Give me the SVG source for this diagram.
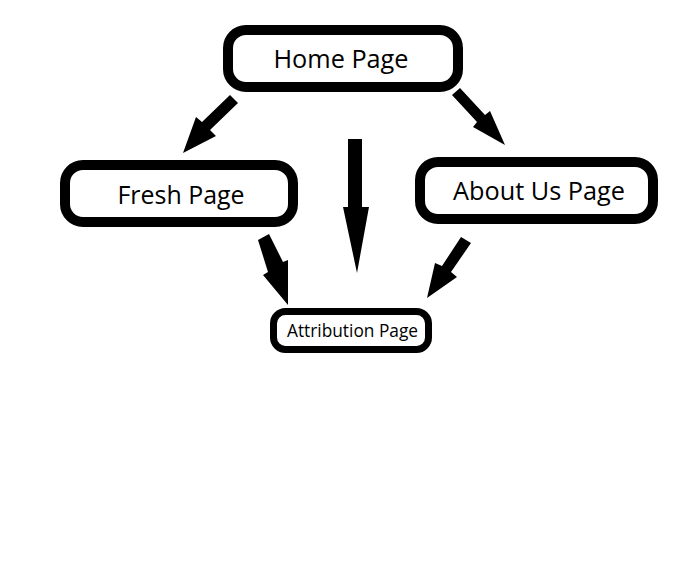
<svg xmlns="http://www.w3.org/2000/svg" width="696" height="564" viewBox="0 0 696 564">
  <style>
    .box { fill: #ffffff; stroke: #000000; stroke-width: 10; }
    .small { stroke-width: 7; }
    .label { font-family: "Open Sans", "Noto Sans", "DejaVu Sans", sans-serif; fill: #000000; text-anchor: middle; }
    .arrow { fill: #000000; stroke: none; }
  </style>
  <rect width="696" height="564" fill="#ffffff"/>

  <g id="connectors">
    <!-- Home Page to Fresh Page -->
    <polygon class="arrow" points="230,95 238,103 210,130 216,136 183,153 196,117 202,122"/>
    <!-- Home Page to About Us Page -->
    <polygon class="arrow" points="452,95 460,88 485,115 490,111 505,145 473,127 477,122"/>
    <!-- Home Page to Attribution Page -->
    <polygon class="arrow" points="348,139 362,139 362,207 369,207 357,273 343,207 348,207"/>
    <!-- Fresh Page to Attribution Page -->
    <polygon class="arrow" points="258,240 269,234 283,262 288,260 288,305 263,275 268,272"/>
    <!-- About Us Page to Attribution Page -->
    <polygon class="arrow" points="461,237 471,243 451,272 457,277 427,298 435,263 442,266"/>
  </g>

  <g id="home-page">
    <rect class="box" x="228" y="30" width="230" height="57" rx="18"/>
    <text class="label" x="341" y="68" font-size="25" textLength="135" lengthAdjust="spacingAndGlyphs">Home Page</text>
  </g>

  <g id="fresh-page">
    <rect class="box" x="65" y="165" width="228" height="57" rx="18"/>
    <text class="label" x="181" y="204" font-size="25" textLength="127" lengthAdjust="spacingAndGlyphs">Fresh Page</text>
  </g>

  <g id="about-us-page">
    <rect class="box" x="420" y="162" width="233" height="57" rx="18"/>
    <text class="label" x="539" y="200" font-size="25" textLength="172" lengthAdjust="spacingAndGlyphs">About Us Page</text>
  </g>

  <g id="attribution-page">
    <rect class="box small" x="273.5" y="311.5" width="155" height="38" rx="12"/>
    <text class="label" x="352.5" y="337" font-size="19" textLength="131" lengthAdjust="spacingAndGlyphs">Attribution Page</text>
  </g>
</svg>
